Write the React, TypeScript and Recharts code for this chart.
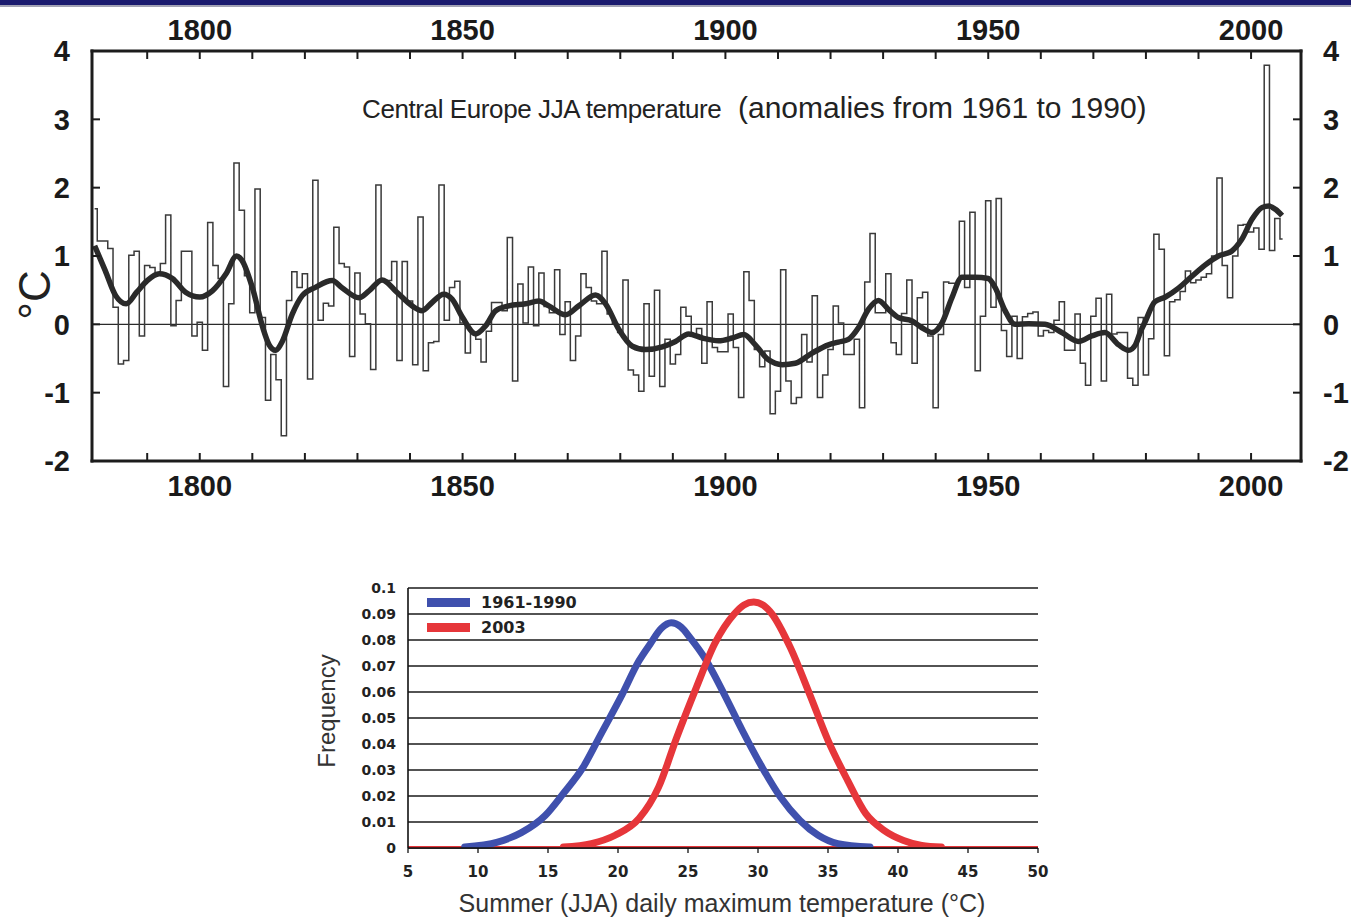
import React from 'react';
import { LineChart, Line, XAxis, YAxis, ReferenceLine, CartesianGrid } from 'recharts';

const FONT = '"Liberation Sans", Arial, Helvetica, sans-serif';
const FONT_WIDE = '"DejaVu Sans", Verdana, sans-serif';

// ---------- Top panel: Central Europe JJA temperature anomalies ----------
const START_YEAR = 1780;
const annualAnomaly = [
  1.69, 1.22, 1.22, 1.11, 0.25, -0.58, -0.53, 1.01, 1.07, -0.17,
  0.86, 0.83, 0.72, 0.89, 1.60, -0.02, 0.35, 1.07, 1.07, -0.17,
  0.03, -0.38, 1.49, 0.86, 0.67, -0.91, 0.30, 2.36, 1.67, 0.71,
  0.17, 1.98, 0.10, -1.11, -0.44, -0.81, -1.63, 0.35, 0.77, 0.54,
  0.74, -0.80, 2.11, 0.06, 0.31, 0.27, 1.42, 0.89, 0.84, -0.47,
  0.75, 0.15, 0.01, -0.66, 2.04, 0.64, 0.64, 0.92, -0.53, 0.92,
  0.34, -0.59, 1.57, -0.68, -0.27, -0.25, 2.04, 0.06, 0.54, 0.63,
  0.02, -0.42, -0.12, -0.22, -0.55, -0.10, 0.32, 0.32, 0.20, 1.27,
  -0.83, 0.59, 0.02, 0.84, -0.02, 0.75, 0.26, 0.17, 0.80, -0.15,
  0.33, -0.53, -0.17, 0.74, 0.54, 0.34, 0.30, 1.07, 0.15, 0.01,
  -0.12, 0.65, -0.67, -0.74, -0.98, 0.30, -0.76, 0.50, -0.91, -0.22,
  -0.58, -0.44, 0.25, 0.12, -0.15, -0.06, -0.57, 0.33, -0.34, -0.40,
  -0.40, 0.15, -0.34, -1.07, 0.77, 0.35, -0.37, -0.62, -0.39, -1.31,
  -0.98, 0.80, -0.83, -1.16, -1.07, -0.15, -0.55, 0.42, -1.07, -0.74,
  -0.37, 0.27, 0.02, -0.44, -0.44, -0.22, -1.22, 0.62, 1.33, 0.17,
  0.17, 0.74, -0.27, -0.44, 0.16, 0.65, -0.57, 0.39, 0.47, -0.17,
  -1.22, -0.15, 0.62, 0.60, 0.60, 1.51, 0.54, 1.64, -0.68, 0.12,
  1.81, 0.25, 1.84, -0.09, -0.47, 0.12, -0.50, 0.11, 0.16, 0.18,
  -0.17, -0.09, -0.12, 0.06, 0.33, -0.38, -0.38, 0.15, -0.57, -0.89,
  0.12, 0.38, -0.83, 0.44, -0.14, -0.12, -0.12, -0.79, -0.89, 0.10,
  -0.74, -0.21, 1.32, 1.10, -0.46, 0.33, 0.36, 0.48, 0.78, 0.61,
  0.65, 0.69, 0.74, 1.00, 2.14, 0.86, 0.39, 1.00, 1.45, 1.46,
  1.35, 1.41, 1.10, 3.79, 1.08, 1.55, 1.25,
];

const smoothYears = [
  1780, 1782, 1784, 1786, 1788, 1790, 1792.3, 1794.8, 1797.3, 1800,
  1802.4, 1805, 1807, 1808, 1810, 1812, 1813.2, 1814.4, 1815.7, 1817.6,
  1819.5, 1822, 1825.2, 1827, 1830.3, 1832.2, 1834.7, 1837.5, 1840.4, 1842.3,
  1844.2, 1846.4, 1848, 1850, 1852.5, 1854.4, 1856.3, 1858.8, 1862, 1864.5,
  1866.4, 1869.6, 1872.1, 1875.3, 1877.2, 1879.7, 1882.3, 1884.8, 1888, 1890.5,
  1893, 1895.6, 1898.7, 1901.3, 1903.5, 1905.7, 1908.2, 1910.8, 1913.3, 1916.5,
  1919.6, 1921.5, 1923.4, 1925.3, 1927.2, 1929.1, 1931, 1932.9, 1935.5, 1937.4,
  1939.3, 1941.2, 1943.1, 1945, 1947.5, 1950, 1951.3, 1953.2, 1955.1, 1957.7,
  1960.8, 1964, 1967.2, 1969.7, 1972.2, 1974.8, 1976.7, 1978, 1979, 1979.8,
  1981.7, 1983.7, 1986.2, 1988.7, 1991.3, 1993.8, 1996.3, 1998.2, 2000.2, 2002.1,
  2003.4, 2004.7, 2005.9,
];
const smoothValues = [
  1.15, 0.79, 0.42, 0.30, 0.47, 0.64, 0.74, 0.67, 0.47, 0.40,
  0.49, 0.74, 1.00, 0.94, 0.54, -0.05, -0.30, -0.38, -0.25, 0.15,
  0.42, 0.54, 0.64, 0.54, 0.39, 0.49, 0.65, 0.47, 0.27, 0.20,
  0.32, 0.44, 0.37, 0.10, -0.14, -0.02, 0.20, 0.27, 0.30, 0.34,
  0.27, 0.14, 0.27, 0.43, 0.30, -0.07, -0.32, -0.37, -0.33, -0.25,
  -0.14, -0.20, -0.24, -0.20, -0.15, -0.30, -0.52, -0.59, -0.57, -0.42,
  -0.30, -0.26, -0.22, -0.05, 0.22, 0.35, 0.22, 0.10, 0.05, -0.05,
  -0.12, 0.02, 0.39, 0.69, 0.69, 0.67, 0.54, 0.20, 0.00, 0.01,
  0.00, -0.12, -0.25, -0.17, -0.12, -0.30, -0.38, -0.30, -0.10, 0.03,
  0.33, 0.40, 0.53, 0.70, 0.87, 1.00, 1.07, 1.24, 1.54, 1.71,
  1.73, 1.68, 1.59,
];

const yearTicks = [1790, 1800, 1810, 1820, 1830, 1840, 1850, 1860, 1870, 1880, 1890, 1900, 1910, 1920, 1930, 1940, 1950, 1960, 1970, 1980, 1990, 2000];
const anomalyTicks = [-2, -1, 0, 1, 2, 3, 4];
const YEAR_DOMAIN = [1779.5, 2009.5];

// ---------- Bottom panel: frequency distributions ----------
const blueTemps = [9.05, 11.4, 13.1, 14.8, 16.1, 17.5, 18.8, 20.2, 21.5, 22.3, 23.1, 23.8, 24.5, 25.2, 26.2, 27.6, 28.9, 30.3, 31.6, 33.0, 34.3, 35.7, 38.0];
const blueFreq = [0.0004, 0.0023, 0.0059, 0.0125, 0.021, 0.031, 0.044, 0.058, 0.072, 0.0785, 0.0845, 0.0866, 0.085, 0.0805, 0.073, 0.059, 0.045, 0.031, 0.0196, 0.0106, 0.0049, 0.0017, 0.0004];
const redTemps = [16.1, 18.1, 19.8, 21.5, 22.9, 24.2, 25.6, 26.9, 28.3, 29.0, 29.7, 30.4, 31.0, 32.3, 33.7, 35.0, 36.4, 37.7, 39.0, 40.4, 41.7, 43.1];
const redFreq = [0.0004, 0.0017, 0.0049, 0.0113, 0.0234, 0.0426, 0.0618, 0.0785, 0.09, 0.0935, 0.0946, 0.0933, 0.09, 0.0772, 0.059, 0.0414, 0.026, 0.0132, 0.0068, 0.0029, 0.001, 0.0004];
const baselineTemps = [5, 50];
const baselineFreq = [0.0003, 0.0003];
const tempTicks = [5, 10, 15, 20, 25, 30, 35, 40, 45, 50];
const freqTicks = [0, 0.01, 0.02, 0.03, 0.04, 0.05, 0.06, 0.07, 0.08, 0.09, 0.1];

const seriesNames = ['1961-1990', '2003'];
const BLUE = '#3f50ad';
const RED = '#e6363a';

const annualData = annualAnomaly.map((v, i) => ({ year: START_YEAR + i, v }));
const smoothData = smoothYears.map((y, i) => ({ year: y, v: smoothValues[i] }));
const blueData = blueTemps.map((t, i) => ({ t, f: blueFreq[i] }));
const redData = redTemps.map((t, i) => ({ t, f: redFreq[i] }));
const baselineData = baselineTemps.map((t, i) => ({ t, f: baselineFreq[i] }));

const frameLine = { stroke: '#1c1c1c', strokeWidth: 3, strokeLinecap: 'square' as const };
const tickLineStyle = { stroke: '#1c1c1c', strokeWidth: 2 };
const bigTick = { fill: '#1a1a1a', fontSize: 29, fontWeight: 700, fontFamily: FONT };
const yearLabel = (y: number) => (y % 50 === 0 ? String(y) : '');

export default function App() {
  return (
    <div style={{ position: 'absolute', left: 0, top: 0, width: 1351, height: 918, background: '#fff', overflow: 'hidden' }}>
      <div style={{ position: 'absolute', left: 0, top: 0 }}>
        <LineChart width={1351} height={520} margin={{ top: 50, right: 49, bottom: 58, left: 91 }}>
          <XAxis xAxisId="b" dataKey="year" type="number" domain={YEAR_DOMAIN} allowDataOverflow ticks={yearTicks} interval={0}
            tickFormatter={yearLabel} orientation="bottom" height={1} axisLine={frameLine} tickLine={tickLineStyle}
            tickSize={-8} tickMargin={22} tick={bigTick} />
          <XAxis xAxisId="t" dataKey="year" type="number" domain={YEAR_DOMAIN} allowDataOverflow ticks={yearTicks} interval={0}
            tickFormatter={yearLabel} orientation="top" height={1} axisLine={frameLine} tickLine={tickLineStyle}
            tickSize={-8} tickMargin={19} tick={bigTick} />
          <YAxis yAxisId="l" type="number" domain={[-2, 4]} allowDataOverflow ticks={anomalyTicks} interval={0}
            orientation="left" width={1} axisLine={frameLine} tickLine={tickLineStyle} tickSize={-8} tickMargin={30} tick={bigTick} />
          <YAxis yAxisId="r" type="number" domain={[-2, 4]} allowDataOverflow ticks={anomalyTicks} interval={0}
            orientation="right" width={1} axisLine={frameLine} tickLine={tickLineStyle} tickSize={-8} tickMargin={30} tick={bigTick} />
          <ReferenceLine xAxisId="b" yAxisId="l" y={0} stroke="#2a2a2a" strokeWidth={1.4} />
          <Line xAxisId="b" yAxisId="l" data={annualData} dataKey="v" type="step" stroke="#3a3a3a" strokeWidth={1.5}
            dot={false} activeDot={false} isAnimationActive={false} />
          <Line xAxisId="b" yAxisId="l" data={smoothData} dataKey="v" type="monotone" stroke="#2a2a2a" strokeWidth={5.5}
            dot={false} activeDot={false} isAnimationActive={false} />
        </LineChart>
      </div>

      <div style={{ position: 'absolute', left: 0, top: 560 }}>
        <LineChart width={1351} height={358} margin={{ top: 28, right: 313, bottom: 69, left: 407 }}>
          <CartesianGrid horizontal vertical={false} stroke="#1a1a1a" strokeWidth={1.5} />
          <XAxis dataKey="t" type="number" domain={[5, 50]} allowDataOverflow ticks={tempTicks} interval={0} height={1}
            axisLine={{ stroke: '#111', strokeWidth: 1.6 }} tickLine={{ stroke: '#111', strokeWidth: 1.3 }} tickSize={5} tickMargin={13}
            tick={{ fill: '#222', fontSize: 15, fontWeight: 700, fontFamily: FONT_WIDE }} />
          <YAxis type="number" domain={[0, 0.1]} allowDataOverflow ticks={freqTicks} interval={0} width={1}
            axisLine={{ stroke: '#111', strokeWidth: 1.6 }} tickLine={false} tickSize={0} tickMargin={12}
            tickFormatter={(v: number) => (v === 0 ? '0' : v.toFixed(2).replace(/0$/, ''))}
            tick={{ fill: '#222', fontSize: 14, fontWeight: 700, fontFamily: FONT_WIDE }} />
          <Line data={baselineData} dataKey="f" type="linear" stroke={RED} strokeWidth={2.5} dot={false} activeDot={false} isAnimationActive={false} />
          <Line data={blueData} dataKey="f" name={seriesNames[0]} type="monotone" stroke={BLUE} strokeWidth={7} strokeLinecap="round"
            dot={false} activeDot={false} isAnimationActive={false} />
          <Line data={redData} dataKey="f" name={seriesNames[1]} type="monotone" stroke={RED} strokeWidth={7} strokeLinecap="round"
            dot={false} activeDot={false} isAnimationActive={false} />
        </LineChart>
      </div>

      <svg width={1351} height={918} style={{ position: 'absolute', left: 0, top: 0, pointerEvents: 'none' }}>
        <rect x={0} y={0} width={1351} height={5} fill="#1b1b6e" />
        <rect x={0} y={5} width={1351} height={2} fill="#a3a3b4" />
        <text x={362} y={118} fontFamily={FONT} fontSize={26} letterSpacing={-0.4} fill="#222">Central Europe JJA temperature</text>
        <text x={738} y={118} fontFamily={FONT} fontSize={30} fill="#222">(anomalies from 1961 to 1990)</text>
        <text x={50} y={295} transform="rotate(-90, 50, 295)" textAnchor="middle" fontFamily={FONT} fontSize={44} fill="#222">°C</text>
        <text x={335} y={711} transform="rotate(-90, 335, 711)" textAnchor="middle" fontFamily={FONT} fontSize={24} fill="#333">Frequency</text>
        <text x={722} y={912} textAnchor="middle" fontFamily={FONT} fontSize={25} fill="#333">Summer (JJA) daily maximum temperature (°C)</text>
        <rect x={427} y={598} width={43} height={9} fill={BLUE} />
        <text x={481} y={608} fontFamily={FONT_WIDE} fontWeight={700} fontSize={16} fill="#222">{seriesNames[0]}</text>
        <rect x={427} y={623} width={43} height={9} fill={RED} />
        <text x={481} y={633} fontFamily={FONT_WIDE} fontWeight={700} fontSize={16} fill="#222">{seriesNames[1]}</text>
      </svg>
    </div>
  );
}
